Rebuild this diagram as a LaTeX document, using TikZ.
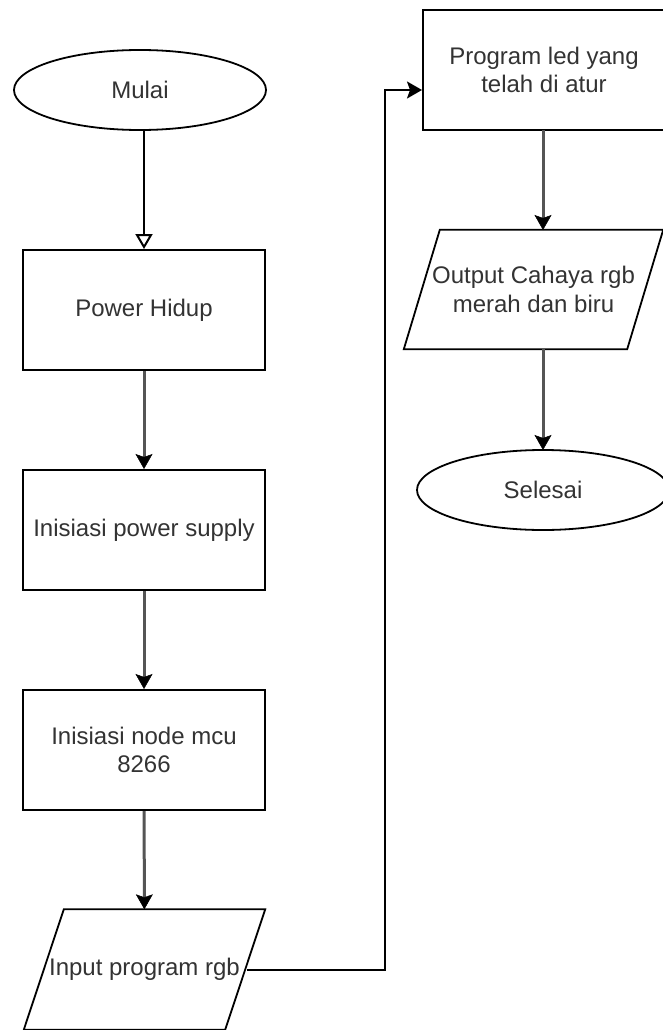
\documentclass[tikz,border=0pt]{standalone}
\usepackage{fontspec}
\setmainfont{Liberation Sans}
\usetikzlibrary{arrows.meta,shapes.geometric,calc}
\definecolor{txtgray}{RGB}{51,51,51}
\definecolor{linegray}{RGB}{85,85,85}
\tikzset{
  txt/.style={font=\fontsize{24}{28.8}\selectfont, text=txtgray, align=center, inner sep=0pt},
  procbox/.style={txt, draw=black, line width=2pt, minimum width=242pt, minimum height=120pt},
  termin/.style={txt, ellipse, draw=black, line width=1.8pt, minimum width=252pt, minimum height=80pt},
  iobox/.style={txt, minimum width=241pt, minimum height=120pt},
  ioline/.style={draw=black, line width=1.8pt, line join=miter},
  conn/.style={draw=linegray, line width=3pt, -{Stealth[length=15pt,width=17pt,inset=3pt,color=black,line width=0.5pt]}},
  connb/.style={draw=black, line width=2pt, -{Stealth[length=15pt,width=17pt,inset=3pt,color=black]}},
  connopen/.style={draw=black, line width=2pt, -{Triangle[open,length=15pt,width=17pt,line width=2pt]}}
}
\begin{document}
\begin{tikzpicture}[x=1pt,y=-1pt]
\useasboundingbox (0,0) rectangle (663,1030);
\fill[white] (0,0) rectangle (663,1030);

% left column
\node[termin] (mulai) at (140,90) {Mulai};
\node[procbox] (power) at (144,310) {Power Hidup};
\node[procbox] (supply) at (144,530) {Inisiasi power supply};
\node[procbox] (mcu) at (144,750) {Inisiasi node mcu\\8266};
\node[iobox] (inp) at (144.5,969.5) {Input program rgb};
\draw[ioline] ([xshift=40pt]inp.north west) -- (inp.north east) -- ([xshift=-40pt]inp.south east) -- (inp.south west) -- cycle;

% right column
\node[procbox] (prog) at (544,70) {Program led yang\\telah di atur};
\node[txt, minimum width=259pt, minimum height=119pt] (out) at (533.5,289.5) {Output Cahaya rgb\\merah dan biru};
\draw[ioline] ([xshift=36pt]out.north west) -- (out.north east) -- ([xshift=-36pt]out.south east) -- (out.south west) -- cycle;
\node[termin] (selesai) at (543,490) {Selesai};

% connectors
\draw[connopen] (mulai.south -| power.north) -- (power.north);
\draw[conn] (power) -- (supply);
\draw[conn] (supply) -- (mcu);
\draw[conn] (mcu) -- (inp);
\coordinate (inR) at (247,970);
\coordinate (bend) at (385,970);
\draw[connb] (inR) -- (bend) |- ([yshift=-20pt]prog.west);
\coordinate (progB) at (543,130);
\coordinate (outT) at (543,230);
\coordinate (outB) at (543,349);
\coordinate (selT) at (543,450);
\draw[conn] (progB) -- (outT);
\draw[conn] (outB) -- (selT);
\end{tikzpicture}
\end{document}
